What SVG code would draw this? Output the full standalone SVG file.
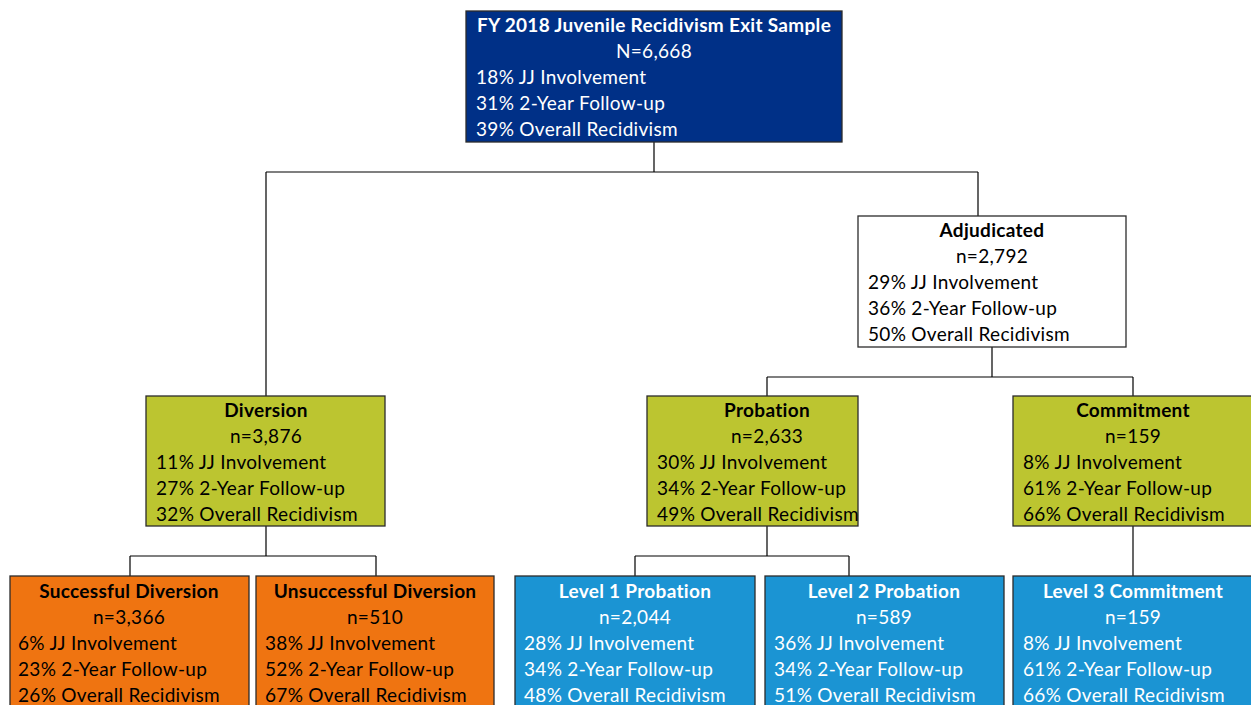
<svg xmlns="http://www.w3.org/2000/svg" width="1251" height="705" viewBox="0 0 1251 705">
<style>
text{font-family:Lato,"Open Sans","Liberation Sans",sans-serif;font-size:19px;letter-spacing:0.3px}
.t{font-weight:bold;text-anchor:middle}
.c{text-anchor:middle}
.w text{fill:#fff}
.k text{fill:#000}
rect{stroke:#2b2b2b;stroke-width:1.3}
.navy rect{fill:#003087}
.white rect{fill:#fff}
.green rect{fill:#bcc530}
.orange rect{fill:#ef7411}
.blue rect{fill:#1b94d3}
#connectors path{fill:none;stroke:#000;stroke-width:1.2}
</style>
<g id="connectors">
<path d="M654,142V172M266,172H978M266,172V396M978,172V216"/>
<path d="M992,347V377M767,377H1133M767,377V396M1133,377V396"/>
<path d="M266,526V556M130,556H376M130,556V576M376,556V576"/>
<path d="M767,526V556M635,556H849M635,556V576M849,556V576"/>
<path d="M1133,526V576"/>
</g>
<g id="root" class="navy w">
<rect x="466" y="11" width="376" height="131"/>
<text class="t" x="654" y="32">FY 2018 Juvenile Recidivism Exit Sample</text>
<text class="c" x="654" y="58">N=6,668</text>
<text x="476" y="84">18% JJ Involvement</text>
<text x="476" y="110">31% 2-Year Follow-up</text>
<text x="476" y="136">39% Overall Recidivism</text>
</g>
<g id="adjudicated" class="white k">
<rect x="858" y="216" width="268" height="131"/>
<text class="t" x="992" y="237">Adjudicated</text>
<text class="c" x="992" y="263">n=2,792</text>
<text x="868" y="289">29% JJ Involvement</text>
<text x="868" y="315">36% 2-Year Follow-up</text>
<text x="868" y="341">50% Overall Recidivism</text>
</g>
<g id="diversion" class="green k">
<rect x="146" y="396" width="239" height="130"/>
<text class="t" x="266" y="417">Diversion</text>
<text class="c" x="266" y="443">n=3,876</text>
<text x="156" y="469">11% JJ Involvement</text>
<text x="156" y="495">27% 2-Year Follow-up</text>
<text x="156" y="521">32% Overall Recidivism</text>
</g>
<g id="probation" class="green k">
<rect x="647" y="396" width="211" height="130"/>
<text class="t" x="767" y="417">Probation</text>
<text class="c" x="767" y="443">n=2,633</text>
<text x="657" y="469">30% JJ Involvement</text>
<text x="657" y="495">34% 2-Year Follow-up</text>
<text x="657" y="521">49% Overall Recidivism</text>
</g>
<g id="commitment" class="green k">
<rect x="1013" y="396" width="240" height="130"/>
<text class="t" x="1133" y="417">Commitment</text>
<text class="c" x="1133" y="443">n=159</text>
<text x="1023" y="469">8% JJ Involvement</text>
<text x="1023" y="495">61% 2-Year Follow-up</text>
<text x="1023" y="521">66% Overall Recidivism</text>
</g>
<g id="successful" class="orange k">
<rect x="10" y="576" width="239" height="135"/>
<text class="t" x="129" y="598">Successful Diversion</text>
<text class="c" x="129" y="624">n=3,366</text>
<text x="18" y="650">6% JJ Involvement</text>
<text x="18" y="676">23% 2-Year Follow-up</text>
<text x="18" y="702">26% Overall Recidivism</text>
</g>
<g id="unsuccessful" class="orange k">
<rect x="256" y="576" width="238" height="135"/>
<text class="t" x="375" y="598">Unsuccessful Diversion</text>
<text class="c" x="375" y="624">n=510</text>
<text x="265" y="650">38% JJ Involvement</text>
<text x="265" y="676">52% 2-Year Follow-up</text>
<text x="265" y="702">67% Overall Recidivism</text>
</g>
<g id="level1" class="blue w">
<rect x="515" y="576" width="240" height="135"/>
<text class="t" x="635" y="598">Level 1 Probation</text>
<text class="c" x="635" y="624">n=2,044</text>
<text x="524" y="650">28% JJ Involvement</text>
<text x="524" y="676">34% 2-Year Follow-up</text>
<text x="524" y="702">48% Overall Recidivism</text>
</g>
<g id="level2" class="blue w">
<rect x="765" y="576" width="239" height="135"/>
<text class="t" x="884" y="598">Level 2 Probation</text>
<text class="c" x="884" y="624">n=589</text>
<text x="774" y="650">36% JJ Involvement</text>
<text x="774" y="676">34% 2-Year Follow-up</text>
<text x="774" y="702">51% Overall Recidivism</text>
</g>
<g id="level3" class="blue w">
<rect x="1013" y="576" width="240" height="135"/>
<text class="t" x="1133" y="598">Level 3 Commitment</text>
<text class="c" x="1133" y="624">n=159</text>
<text x="1023" y="650">8% JJ Involvement</text>
<text x="1023" y="676">61% 2-Year Follow-up</text>
<text x="1023" y="702">66% Overall Recidivism</text>
</g>
</svg>
